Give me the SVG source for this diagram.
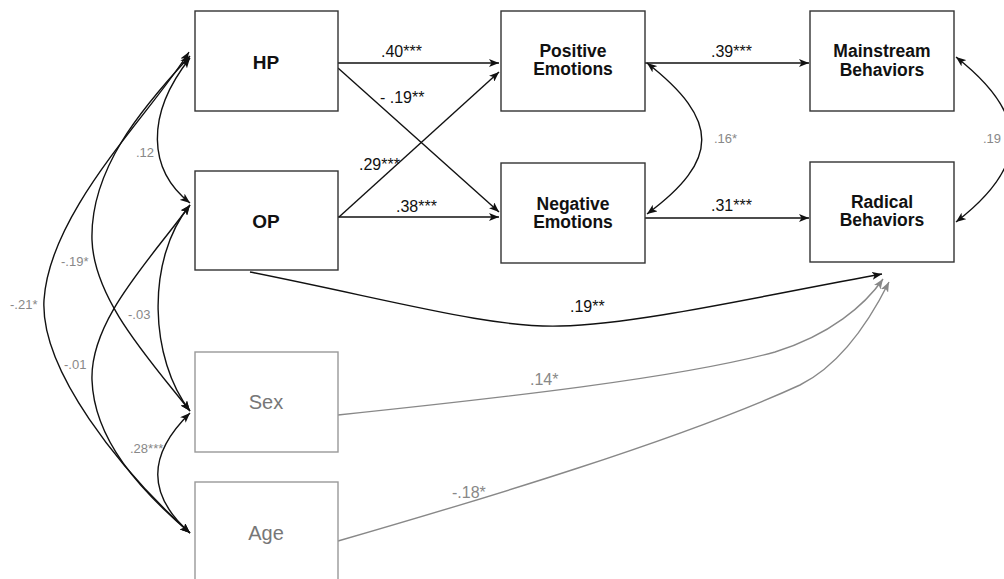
<svg xmlns="http://www.w3.org/2000/svg" width="1004" height="579" viewBox="0 0 1004 579">
<style>
.box{fill:#fff;stroke:#333;stroke-width:1.4}
.gbox{fill:#fff;stroke:#999;stroke-width:1.4}
.nt{font-family:"Liberation Sans",Arial,sans-serif;font-weight:bold;fill:#111;text-anchor:middle}
.gt{font-family:"Liberation Sans",Arial,sans-serif;fill:#777;text-anchor:middle;font-size:20px}
.lb{font-family:"Liberation Sans",Arial,sans-serif;fill:#111;font-size:16px}
.gl{font-family:"Liberation Sans",Arial,sans-serif;fill:#888;font-size:13px}
.gm{font-family:"Liberation Sans",Arial,sans-serif;fill:#888;font-size:16px}
.c{fill:none;stroke:#111;stroke-width:1.4}
.g{fill:none;stroke:#888;stroke-width:1.4}
</style>
<defs>
<marker id="ah" viewBox="0 0 10 8" refX="10" refY="4" markerWidth="10" markerHeight="8" markerUnits="userSpaceOnUse" orient="auto-start-reverse">
<path d="M0,0 L10,4 L0,8 L2.5,4 z" fill="#111"/>
</marker>
<marker id="gh" viewBox="0 0 10 8" refX="10" refY="4" markerWidth="10" markerHeight="8" markerUnits="userSpaceOnUse" orient="auto-start-reverse">
<path d="M0,0 L10,4 L0,8 L2.5,4 z" fill="#888"/>
</marker>
</defs>
<g id="connectors">
<path class="c" marker-end="url(#ah)" d="M338,63 L499,63"/>
<path class="c" marker-end="url(#ah)" d="M338,68 L499,212"/>
<path class="c" marker-end="url(#ah)" d="M339,217 L499,72"/>
<path class="c" marker-end="url(#ah)" d="M338,217 L499,217"/>
<path class="c" marker-end="url(#ah)" d="M645,63 L809,63"/>
<path class="c" marker-end="url(#ah)" d="M645,218 L809,218"/>
<path class="c" marker-start="url(#ah)" marker-end="url(#ah)" d="M647,63 C720,120 720,160 647,214"/>
<path class="c" marker-start="url(#ah)" marker-end="url(#ah)" d="M956,57 C1030,115 1030,165 956,222"/>
<path class="c" marker-end="url(#ah)" d="M250,272 C400,302 490,328 560,326 C640,324 760,296 882,274"/>
<path class="g" marker-end="url(#gh)" d="M338,415 C500,398 680,378 775,352 C830,335 865,305 883,279"/>
<path class="g" marker-end="url(#gh)" d="M338,541 C480,500 680,440 800,385 C840,365 870,320 889,282"/>
<path class="c" marker-start="url(#ah)" marker-end="url(#ah)" d="M190,58 C145,115 148,170 190,203"/>
<path class="c" marker-start="url(#ah)" marker-end="url(#ah)" d="M189,52 C150,115 50,210 44,300 C40,370 120,470 190,533"/>
<path class="c" marker-start="url(#ah)" marker-end="url(#ah)" d="M190,56 C140,110 90,170 92,240 C94,300 150,360 190,411"/>
<path class="c" marker-start="url(#ah)" marker-end="url(#ah)" d="M190,205 C150,260 90,320 92,380 C94,440 140,490 190,533"/>
<path class="c" marker-start="url(#ah)" marker-end="url(#ah)" d="M190,205 C145,260 150,360 190,411"/>
<path class="c" marker-start="url(#ah)" marker-end="url(#ah)" d="M190,413 C147,455 147,495 190,533"/>
<text class="lb" x="381" y="57">.40***</text>
<text class="lb" x="380" y="103">- .19**</text>
<text class="lb" x="359" y="170">.29***</text>
<text class="lb" x="396" y="212">.38***</text>
<text class="lb" x="711" y="57">.39***</text>
<text class="lb" x="711" y="211">.31***</text>
<text class="lb" x="570" y="312">.19**</text>
<text class="gl" x="714" y="143">.16*</text>
<text class="gl" x="983" y="143">.19</text>
<text class="gm" x="530" y="385">.14*</text>
<text class="gm" x="452" y="498">-.18*</text>
<text class="gl" x="136" y="157">.12</text>
<text class="gl" x="61" y="266">-.19*</text>
<text class="gl" x="10" y="309">-.21*</text>
<text class="gl" x="128" y="319">-.03</text>
<text class="gl" x="64" y="369">-.01</text>
<text class="gl" x="130" y="453">.28***</text>
</g>
<g id="HP"><rect class="box" x="195" y="11" width="143" height="100"/><text class="nt" x="266" y="69" font-size="19">HP</text></g>
<g id="OP"><rect class="box" x="195" y="171" width="143" height="99"/><text class="nt" x="266" y="228" font-size="19">OP</text></g>
<g id="Sex"><rect class="gbox" x="195" y="352" width="143" height="100"/><text class="gt" x="266" y="409">Sex</text></g>
<g id="Age"><rect class="gbox" x="195" y="482" width="143" height="102"/><text class="gt" x="266" y="540">Age</text></g>
<g id="PositiveEmotions"><rect class="box" x="501" y="11" width="144" height="100"/><text class="nt" x="573" y="57" font-size="17.5">Positive</text><text class="nt" x="573" y="75" font-size="17.5">Emotions</text></g>
<g id="NegativeEmotions"><rect class="box" x="501" y="163" width="144" height="100"/><text class="nt" x="573" y="210" font-size="17.5">Negative</text><text class="nt" x="573" y="228" font-size="17.5">Emotions</text></g>
<g id="MainstreamBehaviors"><rect class="box" x="810" y="11" width="144" height="100"/><text class="nt" x="882" y="57" font-size="17.5">Mainstream</text><text class="nt" x="882" y="76" font-size="17.5">Behaviors</text></g>
<g id="RadicalBehaviors"><rect class="box" x="810" y="162" width="144" height="100"/><text class="nt" x="882" y="208" font-size="17.5">Radical</text><text class="nt" x="882" y="226" font-size="17.5">Behaviors</text></g>
</svg>
